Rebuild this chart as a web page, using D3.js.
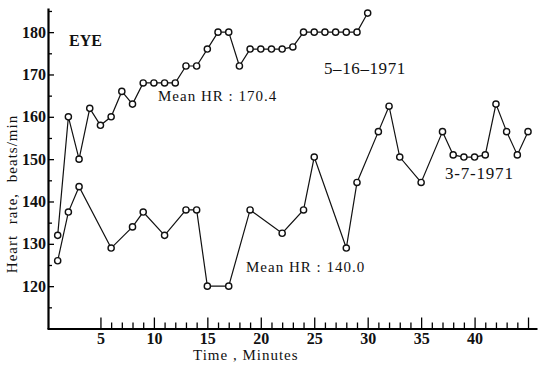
<!DOCTYPE html>
<html>
<head>
<meta charset="utf-8">
<script src="https://cdn.jsdelivr.net/npm/d3@7"></script>
<style>
  body { margin: 0; background: #fff; }
  svg { display: block; font-family: "Liberation Serif", "DejaVu Serif", serif; }
</style>
</head>
<body>
<div id="chart"></div>
<script>
const width = 539;
const height = 365;

// 5-16-1971 run (upper curve)
const mayTimes = [1, 2, 3, 4, 5, 6, 7, 8, 9, 10, 11, 12, 13, 14, 15, 16, 17, 18, 19, 20,
  21, 22, 23, 24, 25, 26, 27, 28, 29, 30];
const mayRates = [132, 160, 150, 162, 158, 160, 166, 163, 168, 168, 168, 168, 172, 172, 176, 180, 180, 172, 176, 176,
  176, 176, 176.5, 180, 180, 180, 180, 180, 180, 184.5];

// 3-7-1971 run (lower curve)
const marTimes = [1, 2, 3, 6, 8, 9, 11, 13, 14, 15, 17, 19, 22, 24, 25, 28, 29, 31, 32, 33,
  35, 37, 38, 39, 40, 41, 42, 43, 44, 45];
const marRates = [126, 137.5, 143.5, 129, 134, 137.5, 132, 138, 138, 120, 120, 138, 132.5, 138, 150.5, 129, 144.5, 156.5, 162.5, 150.5,
  144.5, 156.5, 151, 150.5, 150.5, 151, 163, 156.5, 151, 156.5];

const yMajor = [120, 130, 140, 150, 160, 170, 180];
const yMinor = [115, 125, 135, 145, 155, 165, 175, 185];
const xMajor = [5, 10, 15, 20, 25, 30, 35, 40, 45];
const xLabels = ["5", "10", "15", "20", "25", "30", "35", "40", ""];
const xMinor = d3.range(6, 45).filter(d => d % 5 !== 0);

const svg = d3.select("#chart").append("svg")
  .attr("width", width)
  .attr("height", height);

const x = d3.scaleLinear().domain([0, 45.84]).range([47, 537]);
const y = d3.scaleLinear().domain([110, 185.7]).range([328.5, 8]);

// y axis: labelled ticks every 10, short ticks in between, all pointing inward
svg.append("g")
  .attr("transform", `translate(${x(0) + 1}, 0)`)
  .call(d3.axisLeft(y).tickValues(yMinor).tickSize(-4).tickFormat(""))
  .call(g => g.select(".domain").remove());
const yAxis = svg.append("g")
  .attr("transform", `translate(${x(0) + 1}, 0)`)
  .call(d3.axisLeft(y).tickValues(yMajor).tickSize(-6).tickSizeOuter(0).tickPadding(2));
yAxis.select(".domain").attr("stroke-width", 2.2);
yAxis.selectAll("text")
  .attr("font-size", 16)
  .attr("font-weight", "bold")
  .attr("font-family", "Liberation Serif")
  .attr("fill", "#111");

// x axis
svg.append("g")
  .attr("transform", `translate(0, ${y(110)})`)
  .call(d3.axisBottom(x).tickValues(xMinor).tickSize(-6).tickFormat(""))
  .call(g => g.select(".domain").remove());
const xAxis = svg.append("g")
  .attr("transform", `translate(0, ${y(110)})`)
  .call(d3.axisBottom(x).tickValues(xMajor).tickSize(-11).tickSizeOuter(0).tickPadding(4)
    .tickFormat((d, i) => xLabels[i]));
xAxis.select(".domain").attr("stroke-width", 2.2);
xAxis.selectAll("text")
  .attr("font-size", 16)
  .attr("font-weight", "bold")
  .attr("font-family", "Liberation Serif")
  .attr("fill", "#111");
svg.selectAll(".tick line").attr("stroke-width", 1.3);

const line = d3.line()
  .x(d => x(d[0]))
  .y(d => y(d[1]));

function drawSeries(times, rates) {
  const pts = times.map((t, i) => [t, rates[i]]);
  svg.append("path")
    .datum(pts)
    .attr("d", line)
    .attr("fill", "none")
    .attr("stroke", "#111")
    .attr("stroke-width", 1.2);
  svg.append("g")
    .selectAll("circle")
    .data(pts)
    .enter()
    .append("circle")
    .attr("cx", d => x(d[0]))
    .attr("cy", d => y(d[1]))
    .attr("r", 3.1)
    .attr("fill", "#fff")
    .attr("stroke", "#111")
    .attr("stroke-width", 1.4);
}

drawSeries(mayTimes, mayRates);
drawSeries(marTimes, marRates);

// annotations
const note = (tx, ty, str, size, weight, spacing) =>
  svg.append("text")
    .attr("x", tx)
    .attr("y", ty)
    .attr("font-size", size)
    .attr("font-weight", weight)
    .attr("letter-spacing", spacing)
    .attr("fill", "#111")
    .text(str);

note(69, 46, "EYE", 16, "bold", 0);
note(158, 101, "Mean HR : 170.4", 15, "normal", 1);
note(324, 74, "5–16–1971", 17, "normal", 0.6);
note(445, 179, "3-7-1971", 17, "normal", 0.8);
note(246, 272, "Mean HR : 140.0", 15, "normal", 1);
note(193, 360, "Time , Minutes", 15, "normal", 1);

svg.append("text")
  .attr("transform", "translate(17, 194) rotate(-90)")
  .attr("text-anchor", "middle")
  .attr("font-size", 15)
  .attr("letter-spacing", 1)
  .attr("word-spacing", 6)
  .attr("fill", "#111")
  .text("Heart rate, beats/min");
</script>
</body>
</html>
